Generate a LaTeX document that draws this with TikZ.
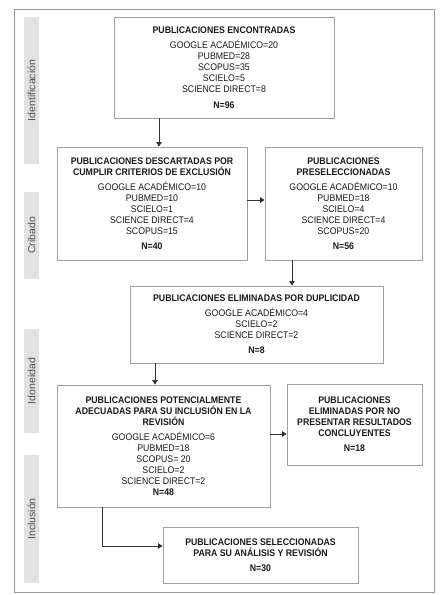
\documentclass[tikz,border=0pt]{standalone}
\usepackage{fontspec}
\setmainfont[FakeStretch=0.91]{Liberation Sans}
\newfontfamily\barfont{Liberation Sans}
\usetikzlibrary{arrows.meta}
\definecolor{boxline}{HTML}{A0A0A0}
\definecolor{frameline}{HTML}{9A9A9A}
\definecolor{barfill}{HTML}{E2E2E2}
\definecolor{bartext}{HTML}{505050}
\definecolor{arrowcol}{HTML}{333333}
\tikzset{
  box/.style={draw=boxline, line width=0.8pt, inner sep=0pt, align=center,
    font=\fontsize{9.6}{11}\selectfont, text=black!90},
  arr/.style={draw=arrowcol, line width=0.8pt, -{Triangle[length=4.5pt,width=5.5pt]}},
  bar/.style={fill=barfill, draw=none},
  barlabel/.style={rotate=90, text=bartext, font=\barfont\fontsize{10.5}{12}\selectfont}
}
\begin{document}
\begin{tikzpicture}[x=1pt,y=-1pt]
\useasboundingbox (0,0) rectangle (447,595);
\fill[white] (0,0) rectangle (447,595);
% outer frame
\draw[frameline, line width=0.8pt] (14,9) rectangle (434,592);
% side bars
\fill[bar] (24,17) rectangle (39,164);
\fill[bar] (24,192) rectangle (39,279);
\fill[bar] (24,329) rectangle (39,433);
\fill[bar] (24,455) rectangle (39,583);
\node[barlabel] (l1) at (31.5,90.5) {Identificación};
\node[barlabel] (l2) at (31.5,235.5) {Cribado};
\node[barlabel] (l3) at (31.5,381) {Idoneidad};
\node[barlabel] (l4) at (31.5,519) {Inclusión};
% boxes
\node[box, minimum width=220pt, minimum height=101pt] (b1) at (224,67.5)
 {\textbf{PUBLICACIONES ENCONTRADAS}\\[4.5pt]
  GOOGLE ACADÉMICO=20\\ PUBMED=28\\ SCOPUS=35\\ SCIELO=5\\ SCIENCE DIRECT=8\\[4.5pt]
  \textbf{N=96}};
\node[box, minimum width=190pt, minimum height=113pt] (b2) at (152,203.5)
 {\textbf{PUBLICACIONES DESCARTADAS POR}\\ \textbf{CUMPLIR CRITERIOS DE EXCLUSIÓN}\\[4pt]
  GOOGLE ACADÉMICO=10\\ PUBMED=10\\ SCIELO=1\\ SCIENCE DIRECT=4\\ SCOPUS=15\\[4pt]
  \textbf{N=40}};
\node[box, minimum width=157pt, minimum height=113pt] (b3) at (343.5,203.5)
 {\textbf{PUBLICACIONES}\\ \textbf{PRESELECCIONADAS}\\[4pt]
  GOOGLE ACADÉMICO=10\\ PUBMED=18\\ SCIELO=4\\ SCIENCE DIRECT=4\\ SCOPUS=20\\[4pt]
  \textbf{N=56}};
\node[box, minimum width=253pt, minimum height=77pt] (b4) at (256.5,324.5)
 {\textbf{PUBLICACIONES ELIMINADAS POR DUPLICIDAD}\\[4pt]
  GOOGLE ACADÉMICO=4\\ SCIELO=2\\ SCIENCE DIRECT=2\\[4pt]
  \textbf{N=8}};
\node[box, minimum width=213pt, minimum height=122pt] (b5) at (163.5,446)
 {\textbf{PUBLICACIONES POTENCIALMENTE}\\ \textbf{ADECUADAS PARA SU INCLUSIÓN EN LA}\\ \textbf{REVISIÓN}\\[4pt]
  GOOGLE ACADÉMICO=6\\ PUBMED=18\\ SCOPUS= 20\\ SCIELO=2\\ SCIENCE DIRECT=2\\
  \textbf{N=48}};
\node[box, minimum width=135pt, minimum height=81pt] (b6) at (354.5,424.5)
 {\textbf{PUBLICACIONES}\\ \textbf{ELIMINADAS POR NO}\\ \textbf{PRESENTAR RESULTADOS}\\ \textbf{CONCLUYENTES}\\[4pt]
  \textbf{N=18}};
\node[box, minimum width=195pt, minimum height=56pt] (b7) at (260.5,555)
 {\textbf{PUBLICACIONES SELECCIONADAS}\\ \textbf{PARA SU ANÁLISIS Y REVISIÓN}\\[4pt]
  \textbf{N=30}};
% connector guides
\coordinate (x1) at (159,0);
\coordinate (y2) at (0,200);
\coordinate (x3) at (292,0);
\coordinate (x4) at (155,0);
\coordinate (y5) at (0,434);
\coordinate (x6) at (102,0);
\coordinate (y6) at (0,546);
% connectors
\draw[arr] (b1.south -| x1) -- (b2.north -| x1);
\draw[arr] (b2.east |- y2) -- (b3.west |- y2);
\draw[arr] (b3.south -| x3) -- (b4.north -| x3);
\draw[arr] (b4.south -| x4) -- (b5.north -| x4);
\draw[arr] (b5.east |- y5) -- (b6.west |- y5);
\draw[arr] (b5.south -| x6) -- (x6 |- y6) -- (b7.west |- y6);
\end{tikzpicture}
\end{document}
